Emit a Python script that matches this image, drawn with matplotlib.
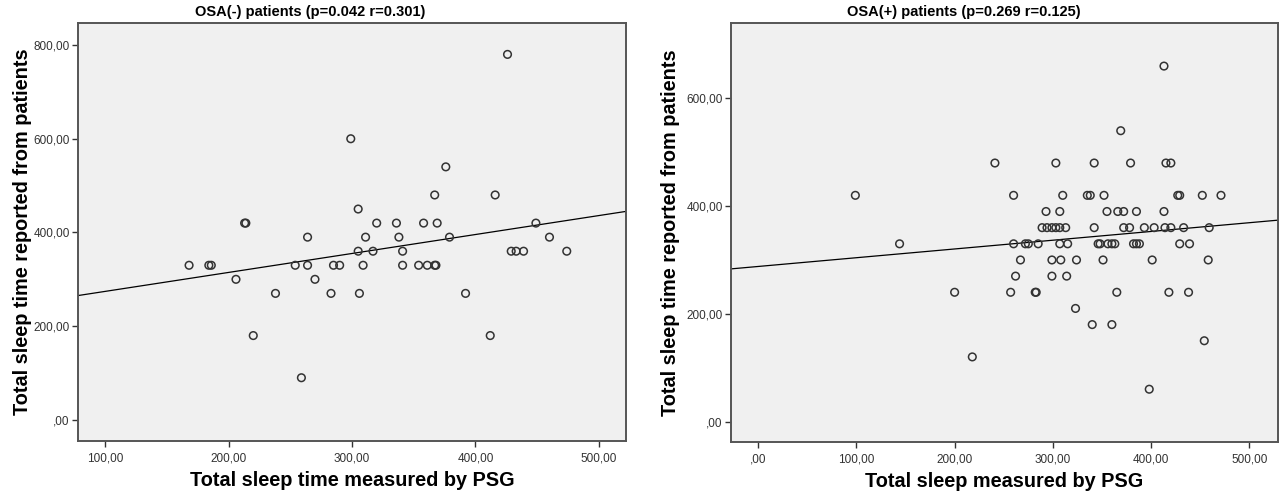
#importing libraries
import numpy as np
from matplotlib import pyplot as plt
from matplotlib.ticker import FuncFormatter

plt.rcParams['font.family'] = ['Liberation Sans', 'DejaVu Sans']

# OSA(-) patients: PSG sleep time vs reported sleep time (minutes)
neg_psg = [168, 184, 186, 206, 213, 214, 220, 238, 254, 259,
           264, 264, 270, 283, 285, 290, 299, 305, 305, 306,
           309, 311, 317, 320, 336, 338, 341, 341, 354, 358,
           361, 367, 368, 367, 369, 376, 379, 392, 412, 416,
           426, 429, 433, 439, 449, 460, 474]
neg_rep = [330, 330, 330, 300, 420, 420, 180, 270, 330, 90,
           390, 330, 300, 270, 330, 330, 600, 450, 360, 270,
           330, 390, 360, 420, 420, 390, 360, 330, 330, 420,
           330, 330, 330, 480, 420, 540, 390, 270, 180, 480,
           780, 360, 360, 360, 420, 390, 360]

# OSA(+) patients
pos_psg = [413,
           369,
           241, 303, 342, 379, 415, 420,
           99, 260, 310, 335, 338, 352, 427, 429, 452, 471,
           293, 307, 355, 366, 372, 385, 413,
           289, 294, 299, 303, 307, 313, 342, 372, 378, 393, 403, 414, 420, 433, 459,
           144, 260, 272, 275, 285, 307, 315, 346, 348, 356, 360, 363, 382, 385, 388, 429, 439,
           267, 299, 308, 324, 351, 401, 458,
           262, 299, 314,
           200, 257, 282, 283, 365, 418, 438,
           323,
           340, 360,
           454,
           218,
           398]
pos_rep = [660,
           540,
           480, 480, 480, 480, 480, 480,
           420, 420, 420, 420, 420, 420, 420, 420, 420, 420,
           390, 390, 390, 390, 390, 390, 390,
           360, 360, 360, 360, 360, 360, 360, 360, 360, 360, 360, 360, 360, 360, 360,
           330, 330, 330, 330, 330, 330, 330, 330, 330, 330, 330, 330, 330, 330, 330, 330, 330,
           300, 300, 300, 300, 300, 300, 300,
           270, 270, 270,
           240, 240, 240, 240, 240, 240, 240,
           210,
           180, 180,
           150,
           120,
           60]

titles = ['OSA(-) patients (p=0.042 r=0.301)', 'OSA(+) patients (p=0.269 r=0.125)']
xlabels = ['Total sleep time measured by PSG', 'Total sleep measured by PSG']
ylabel = 'Total sleep time reported from patients'


def spss_fmt(v, pos):
    s = '%.2f' % v
    s = s.replace('.', ',')
    if s.startswith('0'):
        s = s[1:]
    return s


fig = plt.figure(figsize=(12.8, 4.99), dpi=100)
ax1 = fig.add_axes([78 / 1280, 58 / 499, 548 / 1280, 418 / 499])
ax2 = fig.add_axes([731 / 1280, 57 / 499, 547 / 1280, 419 / 499])

panels = [(ax1, neg_psg, neg_rep, (78, 522), (-45, 847), [100, 200, 300, 400, 500], [0, 200, 400, 600, 800], 310),
          (ax2, pos_psg, pos_rep, (-27.5, 529), (-38, 740), [0, 100, 200, 300, 400, 500], [0, 200, 400, 600], 964)]

for i, (ax, xs, ys, xl, yl, xt, yt, tx) in enumerate(panels):
    ax.set_facecolor('#f0f0f0')
    ax.scatter(xs, ys, s=30, facecolors='none', edgecolors='#333333', linewidths=1.1, zorder=3)
    # linear fit line
    b, a = np.polyfit(xs, ys, 1)
    xx = np.array(xl)
    ax.plot(xx, a + b * xx, color='black', lw=0.9, zorder=2)
    ax.set_xlim(xl)
    ax.set_ylim(yl)
    ax.set_xticks(xt)
    ax.set_yticks(yt)
    ax.xaxis.set_major_formatter(FuncFormatter(spss_fmt))
    ax.yaxis.set_major_formatter(FuncFormatter(spss_fmt))
    ax.tick_params(axis='both', labelsize=8.5, colors='#333333', direction='out', length=4, width=1)
    ax.tick_params(axis='x', pad=4)
    ax.tick_params(axis='y', pad=2)
    for sp in ax.spines.values():
        sp.set_color('#555555')
        sp.set_linewidth(1.4)
    ax.set_xlabel(xlabels[i], fontsize=14.3, fontweight='bold')
    ax.xaxis.set_label_coords(0.5, -0.095)
    ax.xaxis.label.set_va('center')
    ax.set_ylabel(ylabel, fontsize=14.3, fontweight='bold')
    ax.yaxis.label.set_va('center')
    fig.text(tx / 1280, 1 - 12 / 499, titles[i], ha='center', va='center', fontsize=10.5, fontweight='bold')

ax1.yaxis.set_label_coords(-0.102, 0.5)
ax2.yaxis.set_label_coords(-0.110, 0.5)

fig.savefig('out.png', dpi=100)
